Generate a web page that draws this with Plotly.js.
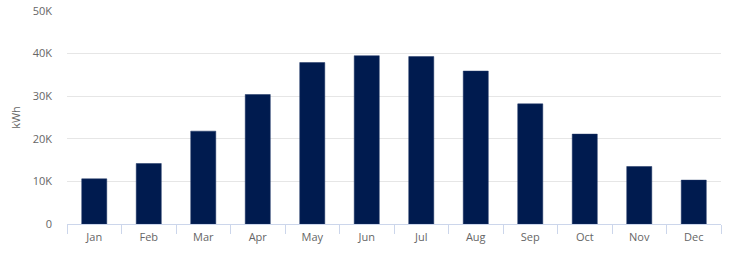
<!DOCTYPE html>
<html>
<head>
<meta charset="utf-8">
<script src="https://cdn.plot.ly/plotly-3.0.1.min.js"></script>
<style>html,body{margin:0;padding:0;background:#fff;}#chart{width:729px;height:256px;}</style>
</head>
<body>
<div id="chart"></div>
<script>
const months = ["Jan","Feb","Mar","Apr","May","Jun","Jul","Aug","Sep","Oct","Nov","Dec"];
const energyKWh = [10600, 14200, 21800, 30400, 37900, 39500, 39300, 35900, 28200, 21100, 13500, 10300];
const yTickVals = [0, 10000, 20000, 30000, 40000, 50000];
const yTickText = ["0", "10K", "20K", "30K", "40K", "50K"];

const trace = {
  type: "bar",
  x: months,
  y: energyKWh,
  marker: {color: "#001b4f", line: {color: "#1c3564", width: 0.5}},
  hoverinfo: "x+y"
};

const layout = {
  width: 729, height: 256,
  margin: {l: 67, r: 8, t: 11, b: 32},
  paper_bgcolor: "#ffffff", plot_bgcolor: "#ffffff",
  font: {family: "Open Sans, DejaVu Sans, sans-serif", size: 11, color: "#666666"},
  bargap: 0.54,
  showlegend: false,
  xaxis: {
    type: "category",
    tickson: "boundaries",
    ticks: "outside", ticklen: 9, tickcolor: "#ccd6eb", tickwidth: 1,
    showline: true, linecolor: "#ccd6eb", linewidth: 1,
    showgrid: false, zeroline: false,
    ticklabelstandoff: 3,
    tickfont: {size: 11, color: "#666666"},
    fixedrange: true
  },
  yaxis: {
    range: [0, 50000],
    tickmode: "array", tickvals: yTickVals, ticktext: yTickText,
    showgrid: true, gridcolor: "#e6e6e6", gridwidth: 1,
    zeroline: false, showline: false,
    ticks: "", ticklabelstandoff: 14,
    tickfont: {size: 11, color: "#666666"},
    title: {text: "kWh", font: {size: 11, color: "#666666"}, standoff: 9},
    fixedrange: true
  }
};

Plotly.newPlot("chart", [trace], layout, {displayModeBar: false, staticPlot: true});
</script>
</body>
</html>
